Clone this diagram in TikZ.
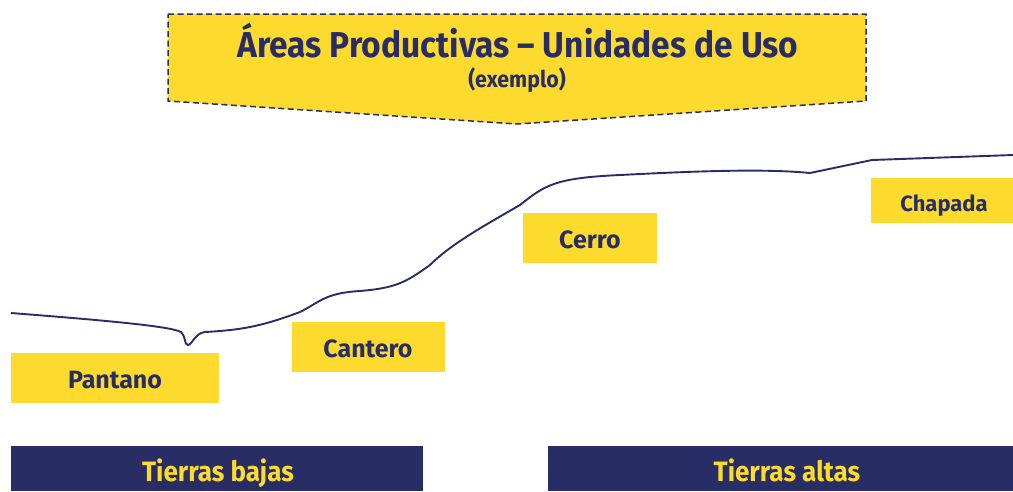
\documentclass[tikz,border=0pt]{standalone}
\usepackage{fontspec}
\setmainfont{Fira Sans}
\newfontfamily\condfont[FakeStretch=0.93]{Fira Sans}
\definecolor{navy}{RGB}{40,45,102}
\definecolor{sun}{RGB}{253,218,46}
\begin{document}
\begin{tikzpicture}[x=1pt,y=-1pt,
  lbox/.style={fill=sun,inner sep=0pt},
  ltext/.style={anchor=base,inner sep=0pt,text=navy,font=\fontsize{25}{30}\selectfont\bfseries},
  zone/.style={fill=navy,inner sep=0pt},
  ztext/.style={anchor=base,inner sep=0pt,text=sun,font=\condfont\fontsize{28}{32}\selectfont\bfseries},
  terrain/.style={draw=navy,line width=1.9pt}]
\useasboundingbox (0,0) rectangle (1013,491);
% banner
\path[fill=sun,draw=navy,line width=1.5pt,dash pattern=on 6pt off 3.5pt]
  (168,14) -- (866,14) -- (866,101) -- (517,124) -- (168,101) -- cycle;
\node[anchor=base,inner sep=0pt,text=navy,font=\condfont\fontsize{36}{40}\selectfont\bfseries] (title) at (518,57) {Áreas Productivas – Unidades de Uso};
\node[anchor=base,inner sep=0pt,text=navy,font=\condfont\fontsize{23}{26}\selectfont\bfseries] (sub) at (517,87) {(exemplo)};
% label boxes
\node[lbox,minimum width=208pt,minimum height=50pt] (pantano) at (115,378) {};
\node[ltext] (tpantano) at (115,388) {Pantano};
\node[lbox,minimum width=153pt,minimum height=50pt] (cantero) at (368.5,347) {};
\node[ltext] (tcantero) at (368,357) {Cantero};
\node[lbox,minimum width=134pt,minimum height=50pt] (cerro) at (590,238) {};
\node[ltext] (tcerro) at (590,248) {Cerro};
\node[lbox,minimum width=142pt,minimum height=45pt] (chapada) at (942,200.5) {};
\node[ltext,font=\fontsize{22}{26}\selectfont\bfseries] (tchapada) at (944,211) {Chapada};
\node[zone,minimum width=412pt,minimum height=45pt] (bajas) at (217,468.5) {};
\node[ztext] (tbajas) at (218,481) {Tierras bajas};
\node[zone,minimum width=465pt,minimum height=45pt] (altas) at (780.5,468.5) {};
\node[ztext] (taltas) at (787,481) {Tierras altas};
% terrain line
\draw[terrain] (11,313) .. controls (100,320) and (170,326) .. (181,332)
  .. controls (186,336) and (184,345) .. (188,345)
  .. controls (192,345) and (195,333) .. (205,332)
  .. controls (240,330) and (260,327) .. (300,312)
  .. controls (320,302) and (325,293) .. (360,291)
  .. controls (395,288) and (405,283) .. (430,265)
  .. controls (450,245) and (480,228) .. (520,205)
  .. controls (545,185) and (555,178) .. (620,175)
  .. controls (680,172) and (760,168) .. (810,173)
  -- (872,160) -- (1013,155);
\end{tikzpicture}
\end{document}
